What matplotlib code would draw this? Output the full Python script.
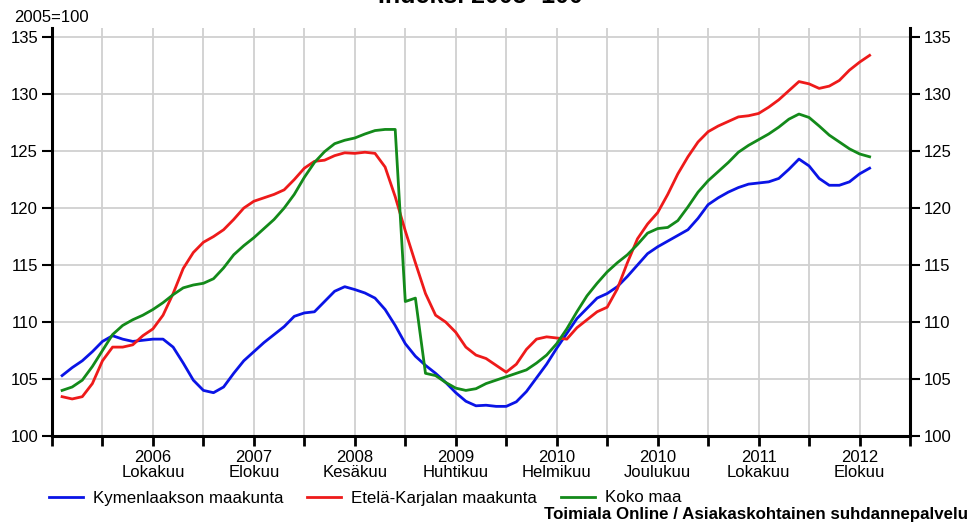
import matplotlib
matplotlib.use("Agg")
import matplotlib.pyplot as plt
import numpy as np

# Month index: 0 = Dec 2005; data from month 1 (Jan 2006) to month 81 (Sep 2012)
months = list(range(1, 82))

kymenlaakso = [105.3, 106.0, 106.6, 107.4, 108.3, 108.8, 108.5, 108.3, 108.4, 108.5,
               108.5, 107.8, 106.4, 104.9, 104.0, 103.8, 104.3, 105.5, 106.6, 107.4,
               108.2, 108.9, 109.6, 110.5, 110.8, 110.9, 111.8, 112.7, 113.1, 112.85,
               112.55, 112.1, 111.1, 109.7, 108.1, 107.0, 106.2, 105.5, 104.7, 103.8,
               103.05, 102.65, 102.7, 102.6, 102.6, 103.0, 103.9, 105.1, 106.3, 107.7,
               109.0, 110.3, 111.2, 112.1, 112.5, 113.1, 114.0, 115.0, 116.0, 116.6,
               117.1, 117.6, 118.1, 119.1, 120.3, 120.9, 121.4, 121.8, 122.1, 122.2,
               122.3, 122.6, 123.4, 124.3, 123.7, 122.6, 122.0, 122.0, 122.3, 123.0,
               123.5]

etela_karjala = [103.45, 103.25, 103.45, 104.6, 106.6, 107.8, 107.8, 108.0, 108.8, 109.4,
                 110.6, 112.5, 114.7, 116.1, 117.0, 117.5, 118.1, 119.0, 120.0, 120.6,
                 120.9, 121.2, 121.6, 122.5, 123.5, 124.1, 124.2, 124.6, 124.85, 124.8,
                 124.9, 124.8, 123.6, 121.0, 118.0, 115.2, 112.5, 110.6, 110.0, 109.1,
                 107.8, 107.1, 106.8, 106.2, 105.6, 106.3, 107.6, 108.5, 108.7, 108.6,
                 108.5, 109.5, 110.2, 110.9, 111.3, 112.9, 115.2, 117.3, 118.6, 119.6,
                 121.2, 123.0, 124.5, 125.8, 126.7, 127.2, 127.6, 128.0, 128.1, 128.3,
                 128.85, 129.5, 130.3, 131.1, 130.9, 130.5, 130.7, 131.2, 132.1, 132.8,
                 133.4]

koko_maa = [104.0, 104.3, 104.9, 106.1, 107.5, 108.9, 109.7, 110.2, 110.6, 111.1,
            111.7, 112.4, 113.0, 113.25, 113.4, 113.8, 114.75, 115.9, 116.7, 117.4,
            118.2, 119.0, 120.0, 121.2, 122.7, 124.0, 124.95, 125.65, 125.95, 126.15,
            126.5, 126.8, 126.9, 126.9, 111.8, 112.1, 105.5, 105.3, 104.7, 104.2,
            104.0, 104.15, 104.6, 104.9, 105.2, 105.5, 105.8, 106.4, 107.1, 108.1,
            109.4, 110.9, 112.3, 113.4, 114.4, 115.2, 115.9, 116.8, 117.8, 118.2,
            118.3, 118.9, 120.1, 121.4, 122.4, 123.2, 124.0, 124.9, 125.5, 126.0,
            126.5, 127.1, 127.8, 128.25, 127.95, 127.2, 126.4, 125.8, 125.2, 124.75,
            124.5]

series_names = ["Kymenlaakson maakunta", "Etelä-Karjalan maakunta", "Koko maa"]
series_colors = ["#0a14e6", "#ee1a1a", "#138a1a"]

tick_positions = list(range(0, 86, 5))
tick_labels = {10: "2006\nLokakuu", 20: "2007\nElokuu", 30: "2008\nKesäkuu",
               40: "2009\nHuhtikuu", 50: "2010\nHelmikuu", 60: "2010\nJoulukuu",
               70: "2011\nLokakuu", 80: "2012\nElokuu"}
y_ticks = [100, 105, 110, 115, 120, 125, 130, 135]

plt.rcParams['font.family'] = ['Liberation Sans', 'DejaVu Sans']

W, H = 972, 522
fig = plt.figure(figsize=(W / 100, H / 100), dpi=100)
ax = fig.add_axes([52 / W, (H - 436) / H, (910 - 52) / W, (436 - 28) / H])

for ys, name, col in zip([kymenlaakso, etela_karjala, koko_maa], series_names, series_colors):
    ax.plot(months, ys, color=col, lw=2.0, label=name, solid_joinstyle='round', zorder=3)

ax.set_xlim(0, 85)
ax.set_ylim(100, 135.8)
ax.set_xticks(tick_positions)
ax.set_xticklabels([tick_labels.get(t, "") for t in tick_positions], fontsize=12,
                   linespacing=1.05)
ax.set_yticks(y_ticks)
ax.set_yticklabels([str(v) for v in y_ticks], fontsize=12)

ax.grid(True, color="#d0d0d0", lw=1.3, zorder=0)
ax.set_axisbelow(True)

ax.spines['top'].set_visible(False)
for s in ['left', 'bottom', 'right']:
    ax.spines[s].set_linewidth(2.2)
    ax.spines[s].set_color('black')

ax.tick_params(axis='x', direction='out', length=7, width=2.0, pad=3, colors='black')
ax.tick_params(axis='y', direction='out', length=7, width=1.5, pad=3, colors='black',
               right=True, labelright=True)

fig.text(14 / W, 1 - 18 / H, "2005=100", fontsize=12, va='center', ha='left')
fig.text(480 / W, 1 - 3 / H, "Indeksi 2005=100", fontsize=18, fontweight='bold',
         va='baseline', ha='center')

handles, labels = ax.get_legend_handles_labels()
fig.legend(handles, labels, loc='center left', bbox_to_anchor=(49 / W, 1 - 498 / H),
           ncol=3, frameon=False, fontsize=12.2, handlelength=2.0, handletextpad=0.6,
           columnspacing=1.4, borderpad=0, borderaxespad=0)

fig.text(968 / W, 1 - 515 / H, "Toimiala Online / Asiakaskohtainen suhdannepalvelu",
         fontsize=12.2, fontweight='bold', ha='right', va='center')

fig.savefig("out.png", dpi=100)
